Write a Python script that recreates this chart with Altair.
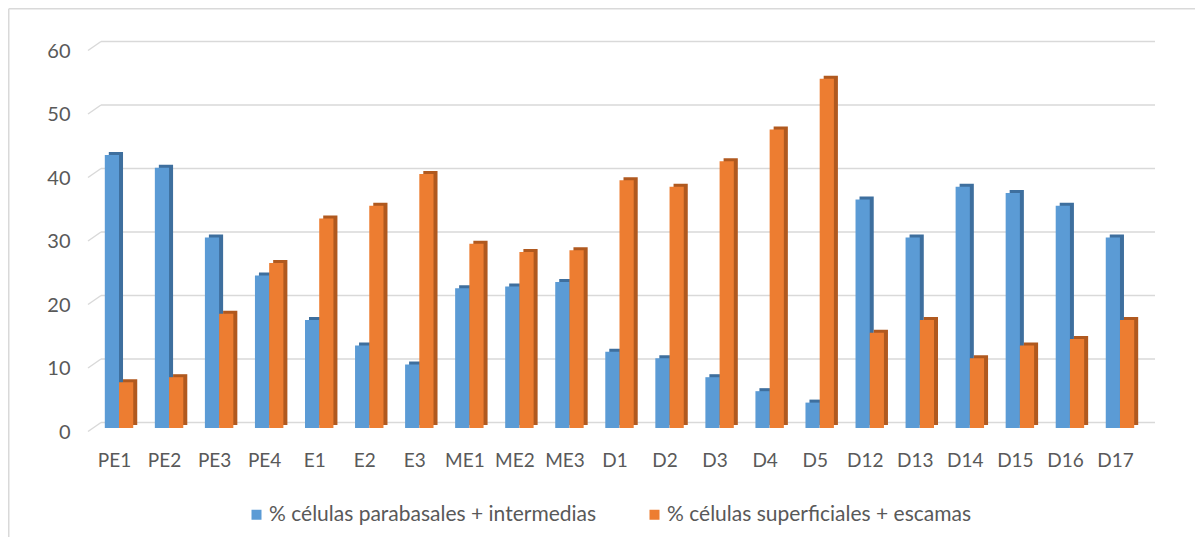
import altair as alt
import pandas as pd

categories = ["PE1", "PE2", "PE3", "PE4", "E1", "E2", "E3", "ME1", "ME2", "ME3",
              "D1", "D2", "D3", "D4", "D5", "D12", "D13", "D14", "D15", "D16", "D17"]
series = ["% células parabasales + intermedias", "% células superficiales + escamas"]
parabasales = [43, 41, 30, 24, 17, 13, 10, 22, 22.3, 23, 12, 11, 8, 5.8, 4, 36, 30, 38, 37, 35, 30]
superficiales = [7.2, 8, 18, 26, 33, 35, 40, 29, 27.7, 28, 39, 38, 42, 47, 55, 15, 17, 11, 13, 14, 17]
y_ticks = [0, 10, 20, 30, 40, 50, 60]

front_colors = ["#5B9BD5", "#ED7D31"]
dark_colors = ["#3E6F9E", "#B0591F"]

rows = []
for c, a, b in zip(categories, parabasales, superficiales):
    rows.append({"cat": c, "series": series[0], "value": a})
    rows.append({"cat": c, "series": series[1], "value": b})
df = pd.DataFrame(rows)
grid_df = pd.DataFrame({"v": y_ticks})
one = pd.DataFrame({"k": [0]})

PAD_L, PAD_T, PAD_R, PAD_B = 86, 39, 50, 109
W, H = 1051, 381
FONT = "Lato"
GRAY = "#595959"

yscale = alt.Scale(domain=[0, 60], nice=False)
xscale = alt.Scale(domain=categories, paddingInner=0, paddingOuter=0)
offscale = alt.Scale(domain=series, paddingInner=0, paddingOuter=0.76)
offscale_dark = alt.Scale(domain=series, paddingInner=0, paddingOuter=0.76, align=0.685)

y_axis = alt.Axis(values=y_ticks, labelFont=FONT, labelFontSize=20, labelColor=GRAY,
                  domain=False, ticks=False, grid=False, labelPadding=24, labelOffset=4, title=None)
x_axis = alt.Axis(labelAngle=0, labelFont=FONT, labelFontSize=19, labelColor=GRAY,
                  domain=False, ticks=False, grid=False, labelPadding=23, labelOffset=-4.5, title=None)

frame_left = alt.Chart(one).mark_rule(color="#d9d9d9", strokeWidth=1.5).encode(
    x=alt.value(-PAD_L + 0.75), y=alt.value(-PAD_T + 0.75), y2=alt.value(H + PAD_B + 5))
frame_top = alt.Chart(one).mark_rule(color="#d9d9d9", strokeWidth=1.5).encode(
    x=alt.value(-PAD_L + 0.75), x2=alt.value(W + PAD_R + 5), y=alt.value(-PAD_T + 0.75))

grid_h = alt.Chart(grid_df).mark_rule(color="#d9d9d9", strokeWidth=1.5, yOffset=-5.5).encode(
    y=alt.Y("v:Q", scale=yscale, axis=y_axis, title=None), x=alt.value(7), x2=alt.value(W + 10))
grid_d = alt.Chart(grid_df).mark_rule(color="#d9d9d9", strokeWidth=1.5, yOffset=3.5, y2Offset=-5.5).encode(
    y=alt.Y("v:Q", scale=yscale, axis=y_axis, title=None), y2=alt.Y2("v"),
    x=alt.value(-6), x2=alt.value(7))

dark = alt.Chart(df).mark_bar(yOffset=-3, y2Offset=-3).encode(
    x=alt.X("cat:N", scale=xscale, sort=categories, axis=x_axis, title=None),
    xOffset=alt.XOffset("series:N", scale=offscale_dark, sort=series),
    y=alt.Y("value:Q", scale=yscale, axis=y_axis, title=None),
    color=alt.Color("series:N", scale=alt.Scale(domain=series, range=dark_colors), legend=None),
)

front = alt.Chart(df).mark_bar().encode(
    x=alt.X("cat:N", scale=xscale, sort=categories, axis=x_axis, title=None),
    xOffset=alt.XOffset("series:N", scale=offscale, sort=series),
    y=alt.Y("value:Q", scale=yscale, axis=y_axis, title=None),
    color=alt.Color("series:N", scale=alt.Scale(domain=series, range=front_colors),
                    legend=alt.Legend(title=None, orient="none", legendX=152, legendY=457,
                                      direction="horizontal", symbolType="square", symbolSize=100,
                                      symbolStrokeWidth=0, labelFont=FONT, labelFontSize=21,
                                      labelColor=GRAY, columnPadding=47, labelOffset=2,
                                      padding=0, labelLimit=600)),
)

chart = alt.layer(frame_left, frame_top, grid_h, grid_d, dark, front).resolve_scale(
    color="independent", xOffset="independent"
).properties(
    width=W, height=H,
    padding={"left": PAD_L, "top": PAD_T, "right": PAD_R, "bottom": PAD_B},
    autosize=alt.AutoSizeParams(type="none"),
    background="white",
).configure_view(stroke=None)

chart.save("out.html", embed_options={"renderer": "svg", "actions": False})
